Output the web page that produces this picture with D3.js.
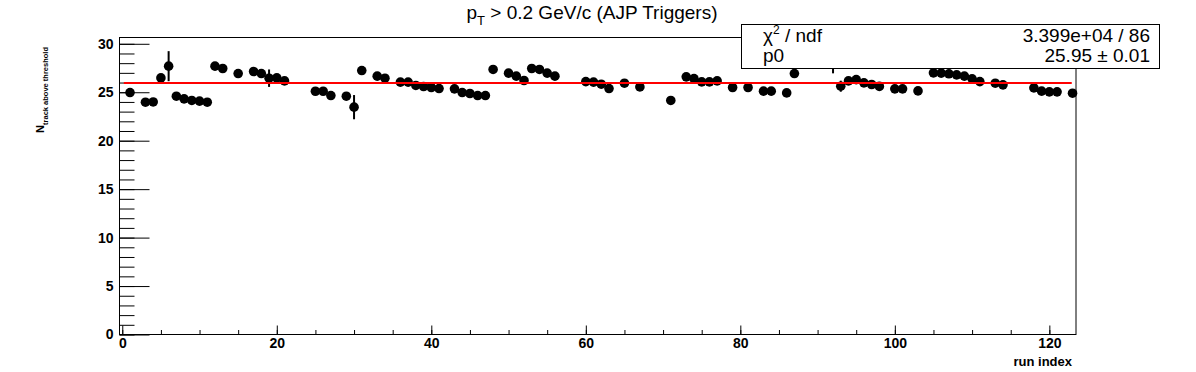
<!DOCTYPE html>
<html>
<head>
<meta charset="utf-8">
<script src="https://cdn.jsdelivr.net/npm/d3@7"></script>
<style>
  body { margin: 0; background: #fff; }
  svg { display: block; font-family: "Liberation Sans", Arial, Helvetica, sans-serif; }
  .tick-label { font-weight: bold; font-size: 14px; }
</style>
</head>
<body>
<div id="graph-container"></div>
<script>
// run index and mean number of tracks above threshold
const runIndex = [1, 3, 4, 5, 6, 7, 8, 9, 10, 11, 12, 13, 15, 17, 18, 19, 20, 21,
  25, 26, 27, 29, 30, 31, 33, 34, 36, 37, 38, 39, 40, 41, 43, 44, 45, 46, 47, 48,
  50, 51, 52, 53, 54, 55, 56, 60, 61, 62, 63, 65, 67, 71, 73, 74, 75, 76, 77,
  79, 81, 83, 84, 86, 87, 92, 93, 94, 95, 96, 97, 98,
  100, 101, 103, 105, 106, 107, 108, 109, 110, 111, 113, 114, 118, 119, 120, 121, 123];
const nTrack = [24.97, 23.97, 24.0, 26.48, 27.69, 24.59, 24.32, 24.15, 24.08, 23.97, 27.69, 27.45, 26.93, 27.14, 26.93, 26.45, 26.48, 26.17,
  25.1, 25.1, 24.66, 24.59, 23.46, 27.24, 26.66, 26.45, 26.04, 26.04, 25.7, 25.59, 25.49, 25.38, 25.35, 24.97, 24.87, 24.66, 24.66, 27.35,
  26.97, 26.66, 26.21, 27.45, 27.35, 26.97, 26.66, 26.1, 26.04, 25.83, 25.38, 25.93, 25.55, 24.15, 26.59, 26.4, 26.07, 26.07, 26.17,
  25.49, 25.49, 25.11, 25.11, 24.93, 26.93, 27.95, 25.62, 26.17, 26.3, 25.97, 25.8, 25.6,
  25.35, 25.35, 25.14, 27.0, 26.97, 26.9, 26.79, 26.66, 26.38, 26.1, 25.93, 25.76, 25.45, 25.11, 25.04, 25.04, 24.9];
const nTrackErr = [0.2, 0.2, 0.2, 0.3, 1.55, 0.2, 0.2, 0.2, 0.2, 0.2, 0.2, 0.2, 0.2, 0.2, 0.2, 0.9, 0.2, 0.2,
  0.2, 0.2, 0.2, 0.2, 1.25, 0.2, 0.2, 0.2, 0.2, 0.2, 0.2, 0.2, 0.2, 0.2, 0.2, 0.2, 0.2, 0.2, 0.2, 0.2,
  0.2, 0.2, 0.2, 0.2, 0.2, 0.2, 0.2, 0.2, 0.2, 0.2, 0.2, 0.2, 0.2, 0.2, 0.2, 0.2, 0.2, 0.2, 0.2,
  0.2, 0.2, 0.2, 0.2, 0.2, 0.2, 1.0, 0.57, 0.2, 0.2, 0.2, 0.2, 0.2,
  0.2, 0.2, 0.2, 0.2, 0.2, 0.2, 0.2, 0.2, 0.2, 0.2, 0.2, 0.2, 0.2, 0.2, 0.2, 0.2, 0.2];

// constant fit (pol0)
const fitP0 = 25.95;
const fitRange = [0.2, 122.9];
const statsNames = ['χ2 / ndf', 'p0'];
const statsValues = ['3.399e+04 / 86', '25.95 ± 0.01'];

const xMajorTicks = [0, 20, 40, 60, 80, 100, 120];
const xMinorTicks = d3.range(0, 125, 5);
const yMajorTicks = [0, 5, 10, 15, 20, 25, 30];
const yMinorTicks = d3.range(0, 31, 1);

const width = 1196;
const height = 372;
const frame = {left: 119.5, right: 1076, top: 37, bottom: 334.5};

const svg = d3.select('#graph-container')
              .append('svg')
              .attr('width', width)
              .attr('height', height);

const x = d3.scaleLinear().domain([-0.36, 123.45]).range([frame.left, frame.right]);
const y = d3.scaleLinear().domain([0, 30.7]).range([frame.bottom, frame.top]);

// ticks point inwards, like ROOT does
function drawAxis(axis, tx, ty, isLabelled) {
  const g = svg.append('g')
               .attr('transform', `translate(${tx},${ty})`)
               .call(axis);
  g.select('.domain').remove();
  g.selectAll('.tick line').attr('stroke', '#000');
  if (isLabelled) {
    g.selectAll('.tick text')
     .attr('class', 'tick-label')
     .attr('fill', '#000');
  }
  g.attr('font-family', null).attr('font-size', null);
  return g;
}

drawAxis(d3.axisLeft(y).tickValues(yMinorTicks).tickSizeInner(-15).tickSizeOuter(0).tickFormat(''),
  frame.left, 0, false);
drawAxis(d3.axisLeft(y).tickValues(yMajorTicks).tickSizeInner(-30).tickSizeOuter(0).tickPadding(6).tickFormat(d3.format('d')),
  frame.left, 0, true);
drawAxis(d3.axisBottom(x).tickValues(xMinorTicks).tickSizeInner(-4.5).tickSizeOuter(0).tickFormat(''),
  0, frame.bottom, false);
drawAxis(d3.axisBottom(x).tickValues(xMajorTicks).tickSizeInner(-9).tickSizeOuter(0).tickPadding(4).tickFormat(d3.format('d')),
  0, frame.bottom, true);

// frame box
svg.append('rect')
   .attr('x', frame.left)
   .attr('y', frame.top + 0.5)
   .attr('width', frame.right - frame.left)
   .attr('height', frame.bottom - frame.top - 0.5)
   .attr('fill', 'none')
   .attr('stroke', '#000')
   .attr('stroke-width', 1);

const points = runIndex.map((r, i) => ({x: r, y: nTrack[i], e: nTrackErr[i]}));

// error bars
svg.append('g')
   .selectAll('line')
   .data(points)
   .enter()
   .append('line')
   .attr('x1', (d) => x(d.x))
   .attr('x2', (d) => x(d.x))
   .attr('y1', (d) => y(d.y - d.e))
   .attr('y2', (d) => y(d.y + d.e))
   .attr('stroke', '#000')
   .attr('stroke-width', 2);

// markers
svg.append('g')
   .selectAll('circle')
   .data(points)
   .enter()
   .append('circle')
   .attr('cx', (d) => x(d.x))
   .attr('cy', (d) => y(d.y))
   .attr('r', 4.8)
   .attr('fill', '#000');

// fit line
svg.append('line')
   .attr('x1', x(fitRange[0]))
   .attr('x2', x(fitRange[1]))
   .attr('y1', y(fitP0))
   .attr('y2', y(fitP0))
   .attr('stroke', '#ff0000')
   .attr('stroke-width', 2);

// title
const title = svg.append('text')
                 .attr('x', 592)
                 .attr('y', 19)
                 .attr('text-anchor', 'middle')
                 .attr('font-size', 19);
title.append('tspan').text('p');
title.append('tspan').attr('font-size', 13).attr('dy', 6).text('T');
title.append('tspan').attr('dy', -6).text(' > 0.2 GeV/c (AJP Triggers)');

// axis titles
svg.append('text')
   .attr('x', 1072)
   .attr('y', 366)
   .attr('text-anchor', 'end')
   .attr('font-weight', 'bold')
   .attr('font-size', 13)
   .text('run index');

const yTitle = svg.append('text')
                  .attr('transform', 'translate(44,47) rotate(-90)')
                  .attr('text-anchor', 'end')
                  .attr('font-weight', 'bold')
                  .attr('font-size', 11);
yTitle.append('tspan').text('N');
yTitle.append('tspan').attr('font-size', 7.5).attr('dy', 4).text('track above threshold');

// stats box
const box = {x: 741.5, y: 24.5, w: 418, h: 44};
svg.append('rect')
   .attr('x', box.x)
   .attr('y', box.y)
   .attr('width', box.w)
   .attr('height', box.h)
   .attr('fill', '#fff')
   .attr('stroke', '#000');

statsNames.forEach((name, i) => {
  const t = svg.append('text')
               .attr('x', 763)
               .attr('y', 42 + i * 20)
               .attr('font-size', 19);
  if (i === 0) {
    t.append('tspan').text('χ');
    t.append('tspan').attr('font-size', 12).attr('dy', -8).text('2');
    t.append('tspan').attr('dy', 8).text(' / ndf');
  } else {
    t.text(name);
  }
  svg.append('text')
     .attr('x', 1150)
     .attr('y', 42 + i * 20)
     .attr('text-anchor', 'end')
     .attr('font-size', 19)
     .text(statsValues[i]);
});
</script>
</body>
</html>
